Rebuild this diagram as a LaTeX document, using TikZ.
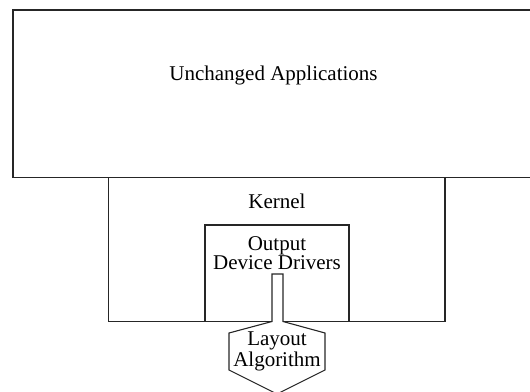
\documentclass[tikz,border=0pt]{standalone}
\usepackage{fontspec}
\setmainfont{Liberation Serif}
\begin{document}
\begin{tikzpicture}[x=1pt,y=-1pt,
  boxline/.style={draw=black!85,line width=1.1pt},
  lbl/.style={font=\fontsize{21}{21}\selectfont,align=center,inner sep=0pt}]
\useasboundingbox (0,0) rectangle (530,391);
\begin{scope}
\clip (0,0) rectangle (530,391);
% Unchanged Applications box
\draw[boxline] (13,10) rectangle (540,177.5);
\node[lbl] (apps) at (273.5,75) {Unchanged Applications};
% Kernel box (bottom edge interrupted by the layout arrow stem)
\draw[boxline] (272,321.5) -- (108.5,321.5) -- (108.5,177.5);
\draw[boxline] (283,321.5) -- (445,321.5) -- (445,177.5);
\node[lbl] (kernel) at (277,201) {Kernel};
% Output device drivers box
\draw[boxline] (205,321.5) -- (205,225) -- (349,225) -- (349,321.5);
\node[lbl,font=\fontsize{21}{19.5}\selectfont] (drivers) at (277,253) {Output\\Device Drivers};
% Layout algorithm arrow
\draw[boxline,line join=miter] (272,274) -- (272,321.5) -- (229,333) -- (229,370) -- (277,394)
  -- (325,370) -- (325,333) -- (283,321.5) -- (283,274) -- cycle;
\node[lbl] (layout) at (277,351) {Layout\\Algorithm};
\end{scope}
\end{tikzpicture}
\end{document}
